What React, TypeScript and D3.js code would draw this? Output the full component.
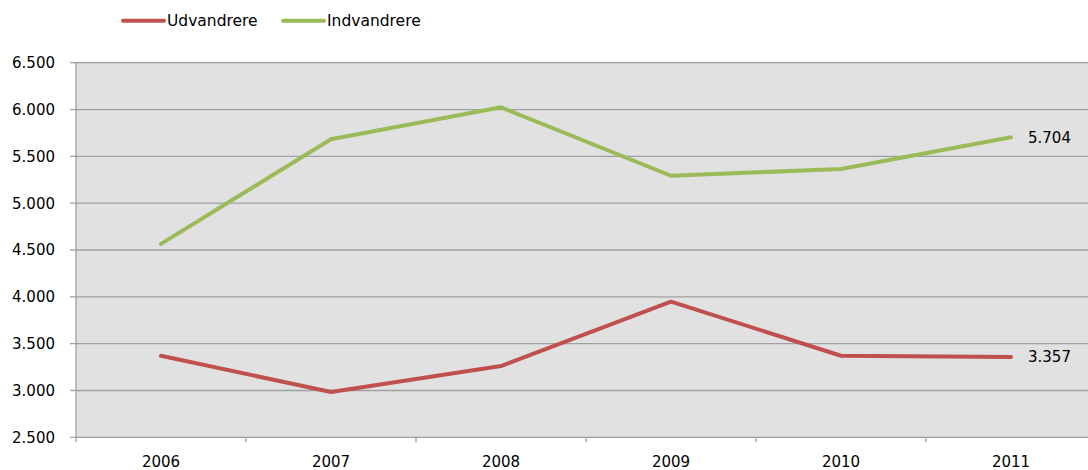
import React from "react";
import * as d3 from "d3";

const years = ["2006", "2007", "2008", "2009", "2010", "2011"];
const udvandrere = [3370, 2984, 3261, 3948, 3371, 3357];
const indvandrere = [4565, 5682, 6024, 5293, 5365, 5704];
const yTicks = [2500, 3000, 3500, 4000, 4500, 5000, 5500, 6000, 6500];
const seriesNames = ["Udvandrere", "Indvandrere"];
const seriesColors = ["#C0504D", "#9BBB59"];

const W = 1088;
const H = 470;
const left = 76;
const right = 1096;
const top = 62.7;
const bottom = 437.3;
const FONT = "DejaVu Sans";

const locale = d3.formatLocale({ decimal: ",", thousands: ".", grouping: [3], currency: ["", " kr"] });
const fmt = locale.format(",d");

export default function App() {
  const x = d3.scaleBand<string>().domain(years).range([left, right]).padding(0);
  const y = d3.scaleLinear().domain([2500, 6500]).range([bottom, top]);
  const cx = (yr: string) => (x(yr) as number) + x.bandwidth() / 2;
  const line = d3
    .line<number>()
    .x((_, i) => cx(years[i]))
    .y((v) => y(v));
  const series = [udvandrere, indvandrere];
  const legendX = [123, 283];
  const boundaries = years.map((yr) => x(yr) as number).concat([right]);

  return (
    <svg width={W} height={H} style={{ position: "absolute", left: 0, top: 0, background: "#fff" }}>
      <rect x={left} y={top} width={right - left} height={bottom - top} fill="#E1E1E1" />
      {yTicks.map((t) => (
        <g key={t}>
          <line x1={left} x2={right} y1={y(t)} y2={y(t)} stroke="#A0A0A0" strokeWidth={1.3} />
          <line x1={left - 6} x2={left} y1={y(t)} y2={y(t)} stroke="#A0A0A0" strokeWidth={1.3} />
          <text x={55} y={y(t)} dy="0.36em" textAnchor="end" fontFamily={FONT} fontSize={15} fill="#000">
            {fmt(t)}
          </text>
        </g>
      ))}
      <line x1={left} x2={left} y1={top} y2={bottom} stroke="#A0A0A0" strokeWidth={1.3} />
      {boundaries.map((b, i) => (
        <line key={i} x1={b} x2={b} y1={bottom} y2={bottom + 5} stroke="#A0A0A0" strokeWidth={1.3} />
      ))}
      {years.map((yr) => (
        <text key={yr} x={cx(yr)} y={466.5} textAnchor="middle" fontFamily={FONT} fontSize={15} fill="#000">
          {yr}
        </text>
      ))}
      {series.map((s, i) => (
        <path
          key={i}
          d={line(s) as string}
          fill="none"
          stroke={seriesColors[i]}
          strokeWidth={4}
          strokeLinecap="round"
          strokeLinejoin="round"
        />
      ))}
      {series.map((s, i) => (
        <text
          key={"l" + i}
          x={cx(years[years.length - 1]) + 17}
          y={y(s[s.length - 1])}
          dy="0.36em"
          fontFamily={FONT}
          fontSize={15}
          fill="#000"
        >
          {fmt(s[s.length - 1])}
        </text>
      ))}
      {seriesNames.map((n, i) => (
        <g key={n}>
          <line x1={legendX[i]} x2={legendX[i] + 41} y1={20.7} y2={20.7} stroke={seriesColors[i]} strokeWidth={4} strokeLinecap="round" />
          <text x={legendX[i] + 44} y={20.7} dy="0.36em" fontFamily={FONT} fontSize={15.5} fill="#000">
            {n}
          </text>
        </g>
      ))}
    </svg>
  );
}
